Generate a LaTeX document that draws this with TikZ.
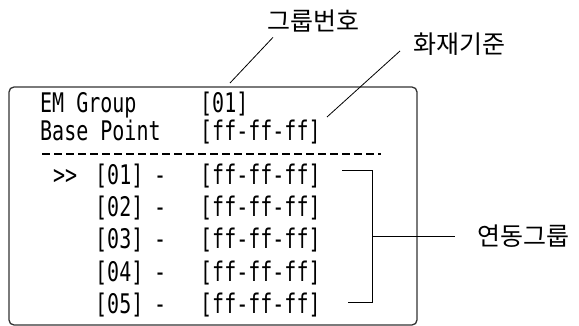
\documentclass[tikz,border=0pt]{standalone}
\usepackage{fontspec}
\usepackage{graphicx}
\usetikzlibrary{positioning}
\newfontfamily\lcdfont{DejaVu Sans Mono}
\newfontfamily\krfont{Noto Sans CJK KR}
\newcommand{\lcdtext}[1]{\scalebox{1}[1.35]{#1}}
\definecolor{framegrey}{HTML}{333333}

\begin{document}
\begin{tikzpicture}[
  x=1pt, y=-1pt,
  lcd/.style={font={\lcdfont\fontsize{20}{24}\selectfont}, inner sep=0pt, anchor=base west},
  callout/.style={font={\krfont\fontsize{25}{30}\selectfont}, inner sep=0pt, anchor=west},
  screen/.style={rectangle, rounded corners=5pt, draw=framegrey, line width=1.3pt,
                 minimum width=408pt, minimum height=238pt, inner sep=0pt},
  leader/.style={black, line width=0.8pt},
  rule/.style={line width=2.4pt, dash pattern=on 8pt off 4pt},
]
\useasboundingbox (0,0) rectangle (579,326);

% --- LCD frame ---
\node[screen] (screen) at (213,206) {};

% --- Header lines ---
\node[lcd] (emlabel) at (40,113) {\lcdtext{EM Group}};
\node[lcd] (emval)   at (200,113) {\lcdtext{[01]}};
\node[lcd] (bplabel) at (40,141) {\lcdtext{Base Point}};
\node[lcd] (bpval)   at (200,141) {\lcdtext{[ff-ff-ff]}};

% --- Separator ---
\coordinate (ruleL) at (42,154);
\coordinate (ruleR) at (381,154);
\draw[rule] (ruleL) -- (ruleR);

% --- Group list ---
\node[lcd] (cursor) at (53,185) {\lcdtext{>\kern0pt>}};
\node[lcd] (idx1)  at (95,185)  {\lcdtext{[01]}};
\node[lcd] (dash1) at (154,185) {\lcdtext{-}};
\node[lcd] (addr1) at (200,185) {\lcdtext{[ff-ff-ff]}};
\node[lcd] (idx2)  at (95,217)  {\lcdtext{[02]}};
\node[lcd] (dash2) at (154,217) {\lcdtext{-}};
\node[lcd] (addr2) at (200,217) {\lcdtext{[ff-ff-ff]}};
\node[lcd] (idx3)  at (95,249)  {\lcdtext{[03]}};
\node[lcd] (dash3) at (154,249) {\lcdtext{-}};
\node[lcd] (addr3) at (200,249) {\lcdtext{[ff-ff-ff]}};
\node[lcd] (idx4)  at (95,281)  {\lcdtext{[04]}};
\node[lcd] (dash4) at (154,281) {\lcdtext{-}};
\node[lcd] (addr4) at (200,281) {\lcdtext{[ff-ff-ff]}};
\node[lcd] (idx5)  at (95,313)  {\lcdtext{[05]}};
\node[lcd] (dash5) at (154,313) {\lcdtext{-}};
\node[lcd] (addr5) at (200,313) {\lcdtext{[ff-ff-ff]}};

% --- Callouts ---
\node[callout] (grpnum)   at (267,21)  {그룹번호};
\node[callout] (firebase) at (413,44)  {화재기준};
\node[callout] (linkgrp)  at (477,236) {연동그룹};

\coordinate (grptip)  at (230,83);
\coordinate (firetip) at (327,117);
\coordinate (brtop)   at (342,170);
\coordinate (brbot)   at (348,302);
\coordinate (brmid)   at (372,236);

\draw[leader] (grptip) -- ([xshift=6pt,yshift=-5pt]grpnum.south west);
\draw[leader] (firetip) -- ([xshift=-13pt,yshift=-7pt]firebase.west);
\draw[leader] (brtop) -- (brtop -| brmid) |- (brbot);
\draw[leader] (brmid) -- ([xshift=-22pt]linkgrp.west);

\end{tikzpicture}
\end{document}
